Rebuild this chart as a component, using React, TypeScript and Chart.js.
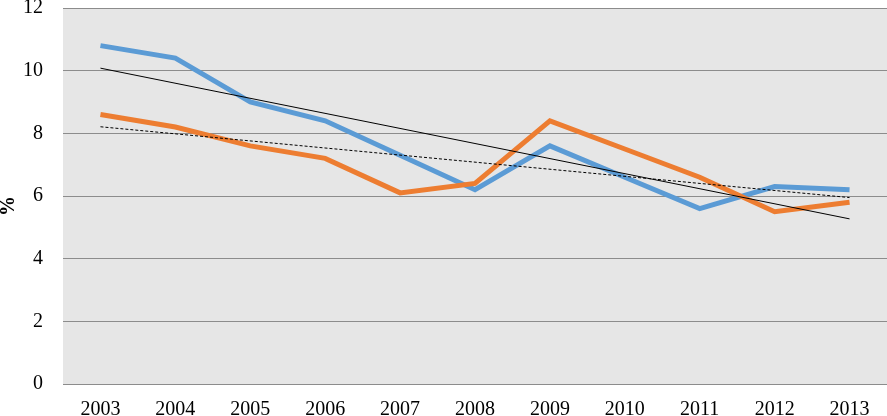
import React, { useEffect, useRef } from "react";
import { Chart, registerables } from "chart.js";

Chart.register(...registerables);

const years = ["2003", "2004", "2005", "2006", "2007", "2008", "2009", "2010", "2011", "2012", "2013"];
const blueSeries = [10.8, 10.4, 9.0, 8.4, 7.3, 6.2, 7.6, 6.6, 5.6, 6.3, 6.2];
const orangeSeries = [8.6, 8.2, 7.6, 7.2, 6.1, 6.4, 8.4, 7.5, 6.6, 5.5, 5.8];
const blueTrend = [10.08, null, null, null, null, null, null, null, null, null, 5.27];
const orangeTrend = [8.21, null, null, null, null, null, null, null, null, null, 5.95];
const yTicks = [0, 2, 4, 6, 8, 10, 12];
const yTitle = "%";

const FAMILY = "'Liberation Serif', 'Times New Roman', serif";

const plotBg = {
  id: "plotBg",
  beforeDraw(chart: any) {
    const { ctx, chartArea } = chart;
    ctx.save();
    ctx.fillStyle = "#e6e6e6";
    ctx.fillRect(chartArea.left, chartArea.top, chartArea.right - chartArea.left, chartArea.bottom - chartArea.top);
    ctx.restore();
  },
  afterDraw(chart: any) {
    const { ctx, chartArea } = chart;
    ctx.save();
    ctx.translate(9, (chartArea.top + chartArea.bottom) / 2 + 10);
    ctx.rotate(-Math.PI / 2);
    ctx.font = `bold 20px ${FAMILY}`;
    ctx.fillStyle = "#000";
    ctx.textAlign = "center";
    ctx.textBaseline = "middle";
    ctx.fillText(yTitle, 0, 0);
    ctx.restore();
  },
};

export default function App() {
  const ref = useRef<HTMLCanvasElement>(null);
  useEffect(() => {
    const font = { family: FAMILY, size: 20 };
    const chart = new Chart(ref.current!, {
      type: "line",
      data: {
        labels: years,
        datasets: [
          { label: "trendBlue", data: blueTrend, borderColor: "#000", borderWidth: 1, pointRadius: 0, spanGaps: true, fill: false },
          { label: "trendOrange", data: orangeTrend, borderColor: "#000", borderWidth: 1, borderDash: [3, 2], pointRadius: 0, spanGaps: true, fill: false },
          { label: "blue", data: blueSeries, borderColor: "#5b9bd5", borderWidth: 5, pointRadius: 0, fill: false, order: 1 },
          { label: "orange", data: orangeSeries, borderColor: "#ed7d31", borderWidth: 5, pointRadius: 0, fill: false, order: 0 },
        ] as any,
      },
      options: {
        animation: false,
        responsive: false,
        devicePixelRatio: 1,
        layout: { padding: { top: 8, right: 0, left: 0, bottom: 0 } },
        plugins: { legend: { display: false }, tooltip: { enabled: false } },
        scales: {
          x: {
            offset: true,
            grid: { display: false, drawTicks: false },
            border: { display: true, color: "#8c8c8c", width: 1 },
            ticks: { color: "#000", font, padding: 14, maxRotation: 0 },
            afterFit(scale: any) { scale.height = 32; scale.paddingLeft = 0; scale.paddingRight = 0; },
          },
          y: {
            min: 0,
            max: 12,
            afterBuildTicks(scale: any) { scale.ticks = yTicks.map((v) => ({ value: v })); },
            grid: { color: "#8c8c8c", drawTicks: false, lineWidth: 1 },
            border: { display: false },
            ticks: { color: "#000", font, padding: 20 },
            afterFit(scale: any) { scale.width = 63; scale.paddingTop = 0; scale.paddingBottom = 0; },
          },
        },
      } as any,
      plugins: [plotBg],
    });
    return () => chart.destroy();
  }, []);
  return (
    <div style={{ position: "fixed", left: 0, top: 0, width: 887, height: 416, background: "#fff" }}>
      <canvas ref={ref} width={887} height={416} style={{ width: 887, height: 416 }} />
    </div>
  );
}
